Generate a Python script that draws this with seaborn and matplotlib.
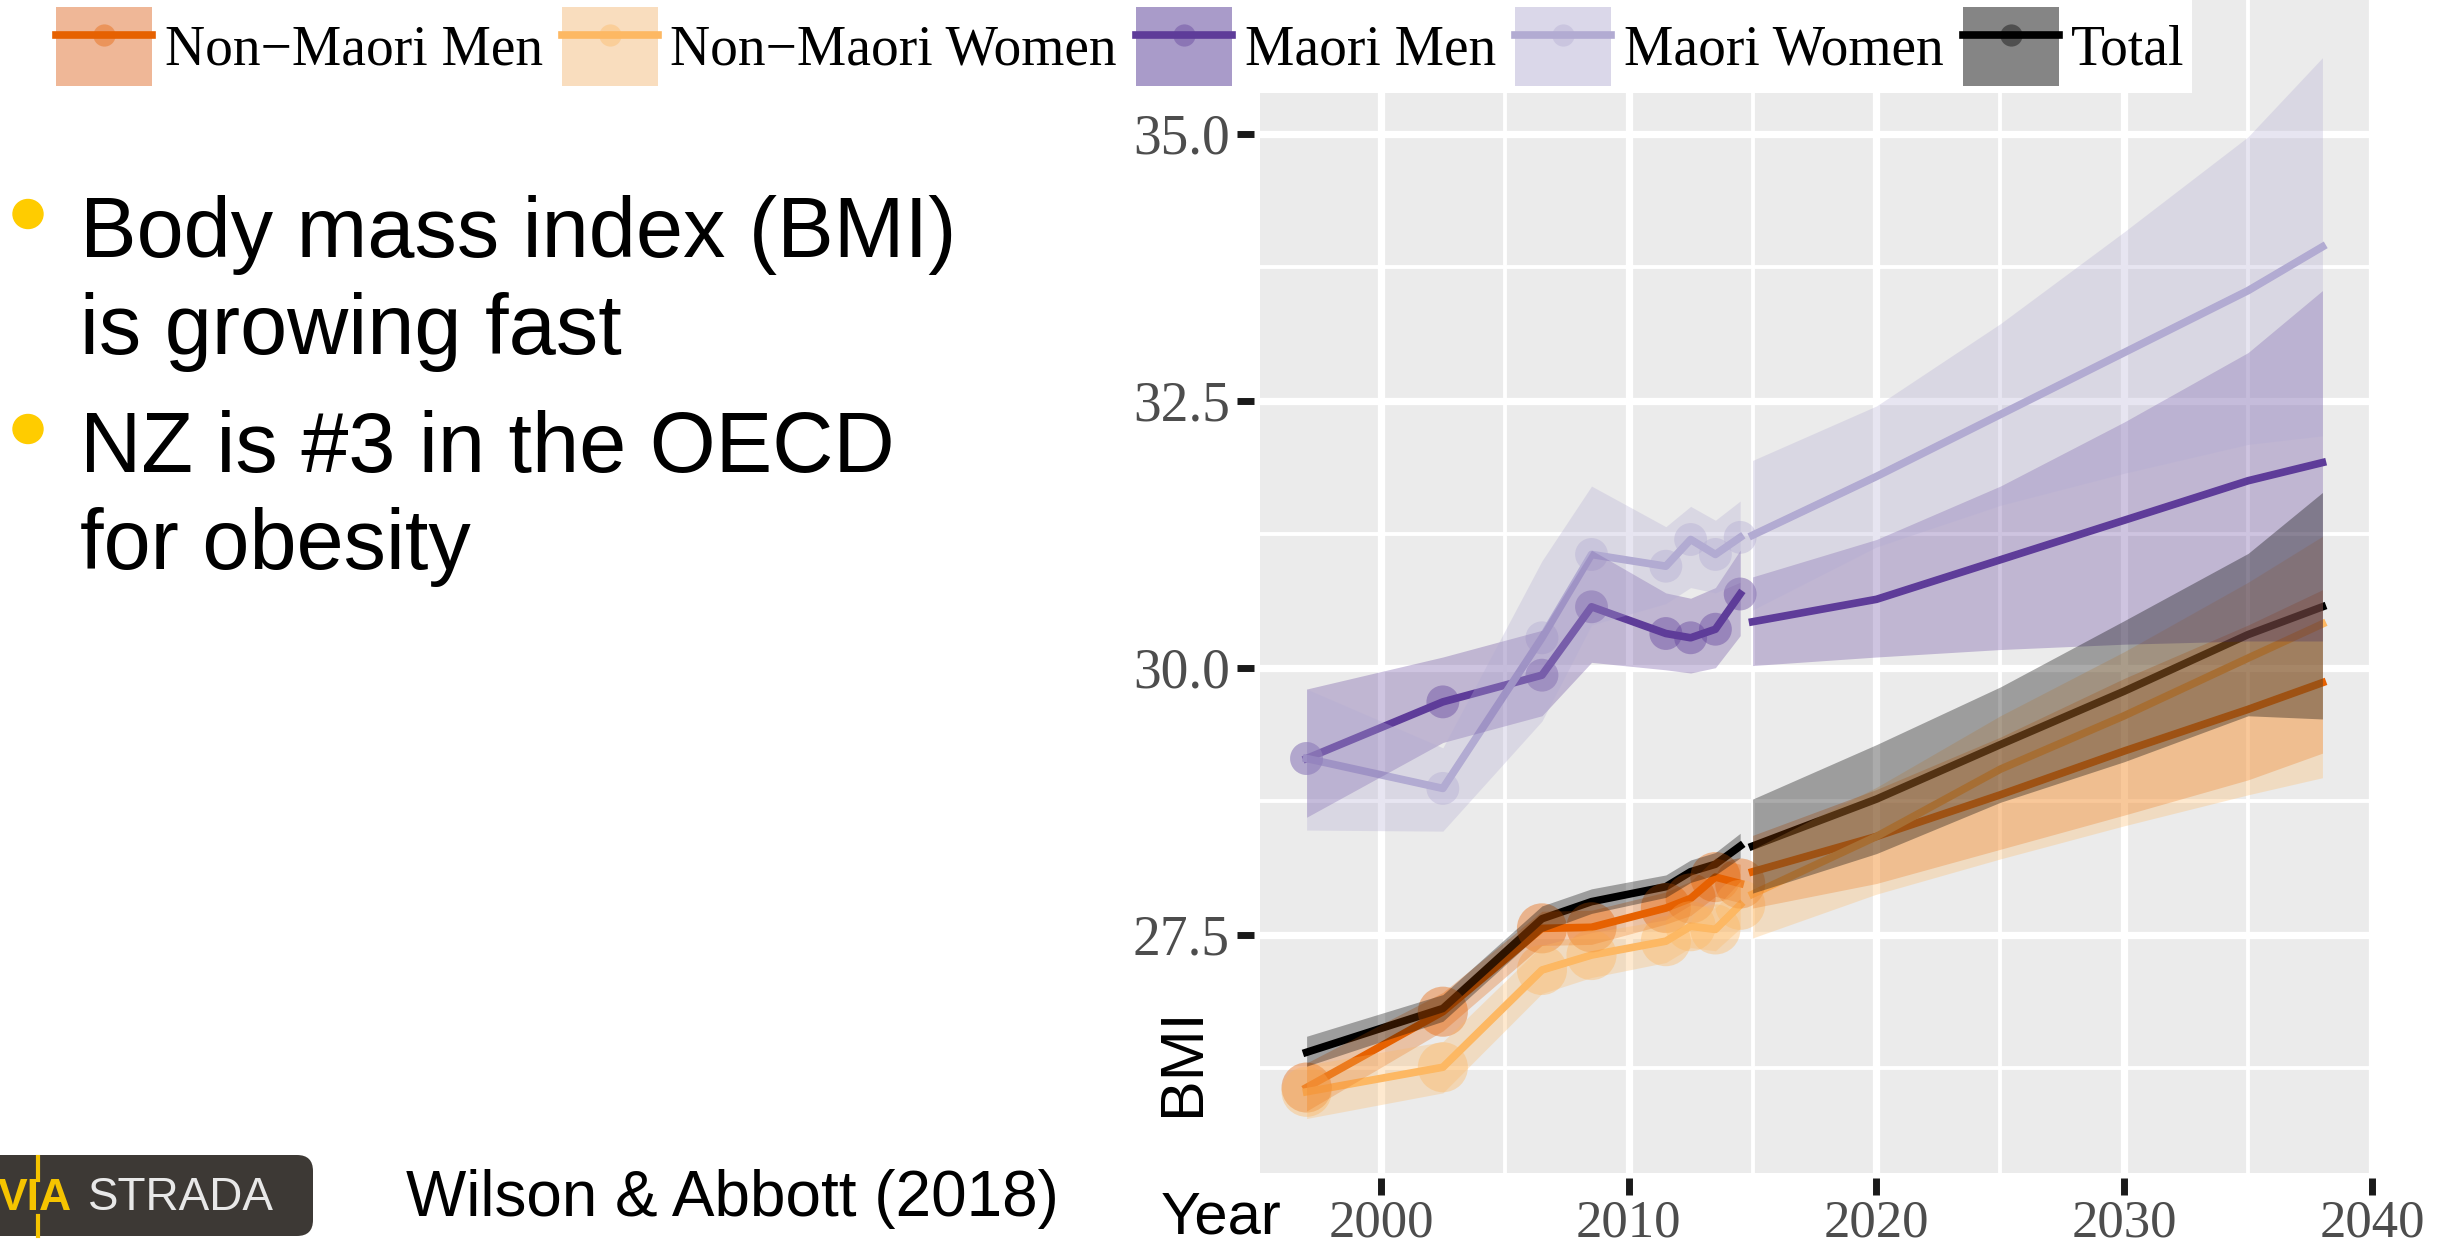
import matplotlib
matplotlib.use("Agg")
import matplotlib.pyplot as plt
from matplotlib.patches import Patch, Ellipse, FancyBboxPatch
from matplotlib.lines import Line2D
from matplotlib.transforms import IdentityTransform
import pandas as pd
import seaborn as sns

# ---- data ----
groups = ["Non\u2212Maori Men", "Non\u2212Maori Women", "Maori Men", "Maori Women", "Total"]
colors = ["#e66101", "#fdb863", "#5e3c99", "#b2abd2", "#000000"]
key_bg = ["#EFB797", "#F9DDBE", "#A99BC9", "#DAD7E9", "#858585"]

survey_years = [1997.0, 2002.5, 2006.5, 2008.5, 2011.5, 2012.5, 2013.5, 2014.5]
proj_years = [2015, 2020, 2025, 2030, 2035, 2038]

# survey estimates (line) and ribbon limits
nm_men = [26.07, 26.78, 27.56, 27.57, 27.75, 27.84, 28.04, 27.98]
nm_men_lo = [25.85, 26.60, 27.40, 27.41, 27.60, 27.68, 27.86, 27.80]
nm_men_hi = [26.30, 26.96, 27.72, 27.73, 27.90, 28.00, 28.22, 28.16]

nm_women = [26.03, 26.26, 27.17, 27.31, 27.44, 27.58, 27.55, 27.78]
nm_women_lo = [25.78, 26.02, 26.95, 27.10, 27.24, 27.38, 27.35, 27.56]
nm_women_hi = [26.28, 26.50, 27.40, 27.52, 27.64, 27.78, 27.75, 28.00]

m_men = [29.15, 29.68, 29.93, 30.57, 30.32, 30.28, 30.36, 30.69]
m_men_lo = [28.60, 29.30, 29.55, 30.05, 29.98, 29.95, 30.00, 30.30]
m_men_hi = [29.80, 30.10, 30.35, 31.10, 30.70, 30.65, 30.75, 31.10]

m_women = [29.15, 28.87, 30.28, 31.06, 30.95, 31.20, 31.06, 31.22]
m_women_lo = [28.48, 28.47, 29.50, 30.40, 30.60, 30.75, 30.70, 30.80]
m_women_hi = [29.80, 29.25, 31.00, 31.70, 31.32, 31.51, 31.38, 31.56]

total = [26.40, 26.81, 27.65, 27.81, 27.95, 28.09, 28.16, 28.33]
total_lo = [26.27, 26.69, 27.53, 27.70, 27.85, 27.99, 28.06, 28.22]
total_hi = [26.55, 26.94, 27.77, 27.93, 28.06, 28.20, 28.27, 28.45]

# projections
p_nm_men = [28.09, 28.42, 28.81, 29.22, 29.61, 29.86]
p_nm_men_lo = [27.75, 27.98, 28.30, 28.62, 28.95, 29.20]
p_nm_men_hi = [28.43, 28.86, 29.35, 29.90, 30.40, 30.73]

p_nm_women = [27.88, 28.42, 29.05, 29.55, 30.09, 30.41]
p_nm_women_lo = [27.47, 27.88, 28.21, 28.52, 28.81, 28.97]
p_nm_women_hi = [28.30, 28.88, 29.55, 30.15, 30.80, 31.23]

p_m_men = [30.43, 30.64, 31.01, 31.38, 31.75, 31.92]
p_m_men_lo = [30.02, 30.10, 30.17, 30.22, 30.25, 30.25]
p_m_men_hi = [30.85, 31.20, 31.70, 32.30, 32.95, 33.53]

p_m_women = [31.24, 31.79, 32.37, 32.95, 33.53, 33.94]
p_m_women_lo = [30.54, 31.13, 31.52, 31.82, 32.09, 32.17]
p_m_women_hi = [31.94, 32.45, 33.22, 34.08, 34.97, 35.71]

p_total = [28.33, 28.77, 29.28, 29.78, 30.31, 30.57]
p_total_lo = [27.89, 28.26, 28.74, 29.12, 29.55, 29.52]
p_total_hi = [28.77, 29.28, 29.82, 30.44, 31.07, 31.64]

hist = {
    groups[0]: (nm_men, nm_men_lo, nm_men_hi),
    groups[1]: (nm_women, nm_women_lo, nm_women_hi),
    groups[2]: (m_men, m_men_lo, m_men_hi),
    groups[3]: (m_women, m_women_lo, m_women_hi),
    groups[4]: (total, total_lo, total_hi),
}
proj = {
    groups[0]: (p_nm_men, p_nm_men_lo, p_nm_men_hi),
    groups[1]: (p_nm_women, p_nm_women_lo, p_nm_women_hi),
    groups[2]: (p_m_men, p_m_men_lo, p_m_men_hi),
    groups[3]: (p_m_women, p_m_women_lo, p_m_women_hi),
    groups[4]: (p_total, p_total_lo, p_total_hi),
}

W, H = 2445, 1249


def fx(x):
    return x / W


def fy(y):
    return 1 - y / H


plt.rcParams['font.family'] = ['Liberation Serif', 'DejaVu Serif']
palette = dict(zip(groups, colors))

df_hist = pd.DataFrame([(y, v, g) for g in groups for y, v in zip(survey_years, hist[g][0])],
                       columns=['year', 'bmi', 'group'])
df_proj = pd.DataFrame([(y, v, g) for g in groups for y, v in zip(proj_years, proj[g][0])],
                       columns=['year', 'bmi', 'group'])
df_pts = df_hist[df_hist['group'] != 'Total']

fig = plt.figure(figsize=(W / 100, H / 100), dpi=100)
ax = fig.add_axes([fx(1260), fy(1173), (2372 - 1260) / W, 1173 / H])
ax.set_facecolor('#EBEBEB')

# lines and points first, ribbons laid over them (as in the original)
sns.lineplot(data=df_hist, x='year', y='bmi', hue='group', hue_order=groups, palette=palette,
             estimator=None, linewidth=5.5, legend=False, ax=ax)
sns.lineplot(data=df_proj, x='year', y='bmi', hue='group', hue_order=groups, palette=palette,
             estimator=None, linewidth=5.5, legend=False, ax=ax)
sns.scatterplot(data=df_pts, x='year', y='bmi', hue='group', hue_order=groups[:4], palette=palette,
                size='group', sizes={groups[0]: 1300, groups[1]: 1300, groups[2]: 560, groups[3]: 560},
                alpha=0.4, edgecolor='none', legend=False, ax=ax, zorder=2.2)

ribbon_alpha = [0.3, 0.3, 0.3, 0.3, 0.33]
for g, c, a in zip(groups, colors, ribbon_alpha):
    ax.fill_between(survey_years, hist[g][1], hist[g][2], color=c, alpha=a, lw=0, zorder=3)
    ax.fill_between(proj_years, proj[g][1], proj[g][2], color=c, alpha=a, lw=0, zorder=3)

ax.set_xlim(1995.12, 2039.96)
ax.set_ylim(25.27, 36.25)
ax.set_xticks([2000, 2010, 2020, 2030, 2040])
ax.set_xticks([2005, 2015, 2025, 2035], minor=True)
ax.set_yticks([27.5, 30.0, 32.5, 35.0])
ax.set_yticklabels(['27.5', '30.0', '32.5', '35.0'])
ax.set_yticks([26.25, 28.75, 31.25, 33.75], minor=True)
ax.grid(which='major', color='white', lw=5.2)
ax.grid(which='minor', color='white', lw=2.8)
ax.set_axisbelow(True)
for s in ax.spines.values():
    s.set_visible(False)
ax.spines['left'].set_position(('outward', 4.3))
ax.spines['bottom'].set_position(('outward', 3.6))
ax.tick_params(which='major', length=12.5, width=5, color='#1A1A1A', labelcolor='#4D4D4D')
ax.tick_params(axis='y', labelsize=40, pad=5)
ax.tick_params(axis='x', labelsize=38, pad=3)
ax.tick_params(which='minor', length=0)
ax.set_xlabel('')
ax.set_ylabel('')

# legend across the top
handles = [(Patch(fc=bg, ec='none'),
            Line2D([], [], color=c, lw=5.5),
            Line2D([], [], ls='none', marker='o', ms=16, color=c, alpha=0.4, mec='none'))
           for c, bg in zip(colors, key_bg)]
fig.legend(handles, groups, loc='upper left', bbox_to_anchor=(fx(49), 1.0), ncol=5,
           frameon=True, fancybox=False, framealpha=1, facecolor='white', edgecolor='none',
           borderpad=0.12, borderaxespad=0, handlelength=1.73, handleheight=1.82,
           handletextpad=0.23, columnspacing=0.34,
           prop={'family': 'Liberation Serif', 'size': 40})

# slide text
sans = 'Liberation Sans'
for yb in (214, 429):
    fig.add_artist(Ellipse((fx(28), fy(yb)), 30 / W, 29 / H, transform=fig.transFigure,
                           color='#FFCC00'))
lines = [(257, "Body mass index (BMI)"), (354, "is growing fast"),
         (472, "NZ is #3 in the OECD"), (569, "for obesity")]
for yb, t in lines:
    fig.text(fx(80), fy(yb), t, fontsize=61, family=sans, va='baseline')

fig.text(fx(406), fy(1216), "Wilson & Abbott (2018)", fontsize=46, family=sans, va='baseline')
fig.text(fx(1184), fy(1062), "BMI", rotation=90, ha='center', va='center', fontsize=44, family=sans)
fig.text(fx(1161), fy(1234), "Year", fontsize=43, family=sans, va='baseline')

# logo
fig.add_artist(FancyBboxPatch((-20, H - 1236), 333, 81, boxstyle='round,pad=0,rounding_size=16',
                              transform=IdentityTransform(), fc='#3D3935', ec='none'))
fig.add_artist(Line2D([fx(38), fx(38)], [fy(1157), fy(1180)], color='#F5C400', lw=3))
fig.add_artist(Line2D([fx(38), fx(38)], [fy(1216), fy(1236)], color='#F5C400', lw=3))
fig.text(fx(-2), fy(1198), "VIA", color='#F5C400', weight='bold', fontsize=32, family=sans,
         va='center')
fig.text(fx(88), fy(1198), "STRADA", color='#E8E8E8', fontsize=33, family=sans, va='center')

fig.savefig('out.png', dpi=100)
